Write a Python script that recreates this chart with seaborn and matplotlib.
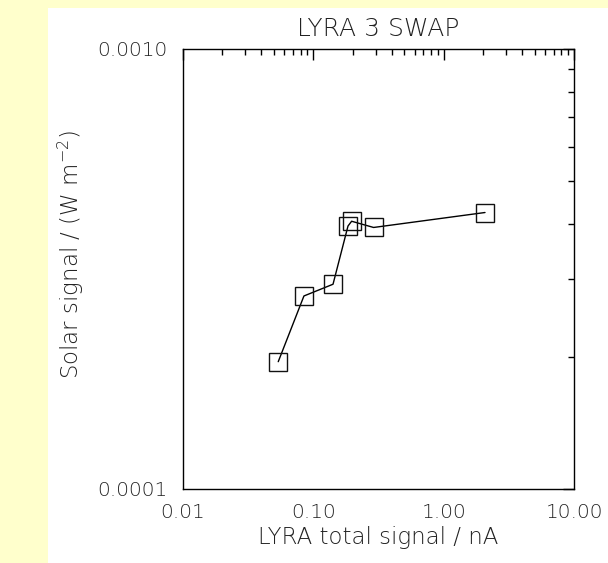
import numpy as np
import pandas as pd
import matplotlib
matplotlib.use("Agg")
import matplotlib.pyplot as plt
import matplotlib.patches as mpatches
from matplotlib.ticker import FixedLocator, FixedFormatter, NullFormatter
import seaborn as sns

# Data
lyra_total_nA = [0.0538, 0.0847, 0.1416, 0.1845, 0.1967, 0.290, 2.076]
solar_signal_Wm2 = [1.947e-4, 2.746e-4, 2.92e-4, 3.96e-4, 4.06e-4, 3.93e-4, 4.25e-4]

x_tick_values = [0.01, 0.1, 1.0, 10.0]
x_tick_labels = ["0.01", "0.10", "1.00", "10.00"]
y_tick_values = [1e-4, 1e-3]
y_tick_labels = ["0.0001", "0.0010"]

title = "LYRA 3 SWAP"
xlabel = "LYRA total signal / nA"
ylabel = "Solar signal / (W m$^{-2}$)"

df = pd.DataFrame({"x": lyra_total_nA, "y": solar_signal_Wm2})

sns.set_style("white")
plt.rcParams["font.family"] = ["DejaVu Sans"]
plt.rcParams["font.weight"] = "light"
plt.rcParams["mathtext.fontset"] = "custom"
plt.rcParams["mathtext.rm"] = "DejaVu Sans:light"

W, H = 608, 563
fig = plt.figure(figsize=(W / 100, H / 100), dpi=100)
fig.patch.set_facecolor("#FFFFCC")

# white panel behind the plot
bg = fig.add_axes([48 / W, 0, 1 - 48 / W, (H - 8) / H], zorder=-10)
bg.set_facecolor("white")
bg.set_axis_off()
bg.add_patch(mpatches.Rectangle((0, 0), 1, 1, transform=bg.transAxes,
                                facecolor="white", edgecolor="none"))

ax_l, ax_r, ax_t, ax_b = 183, 574, 49, 489
ax = fig.add_axes([ax_l / W, 1 - ax_b / H, (ax_r - ax_l) / W, (ax_b - ax_t) / H])
ax.set_facecolor("white")

text_color = "#222222"
sns.lineplot(data=df, x="x", y="y", ax=ax, estimator=None, sort=True,
             color="black", linewidth=1.0, marker="s", markersize=12.5,
             markerfacecolor="none", markeredgecolor="#111111", markeredgewidth=1.0)

ax.set_xscale("log")
ax.set_yscale("log")
ax.set_xlim(0.01, 10.0)
ax.set_ylim(1e-4, 1e-3)

ax.xaxis.set_major_locator(FixedLocator(x_tick_values))
ax.xaxis.set_major_formatter(FixedFormatter(x_tick_labels))
minor_x = [m * d for d in [0.01, 0.1, 1.0] for m in range(2, 10)]
ax.xaxis.set_minor_locator(FixedLocator(minor_x))
ax.xaxis.set_minor_formatter(NullFormatter())

ax.yaxis.set_major_locator(FixedLocator(y_tick_values))
ax.yaxis.set_major_formatter(FixedFormatter(y_tick_labels))
minor_y = [m * 1e-4 for m in range(2, 10)]
ax.yaxis.set_minor_locator(FixedLocator(minor_y))
ax.yaxis.set_minor_formatter(NullFormatter())

ax.tick_params(which="both", direction="in", top=True, right=True, color="black",
               width=1.0, labelsize=14.5, labelcolor=text_color)
ax.tick_params(axis="x", which="major", length=8, pad=10)
ax.tick_params(axis="x", which="minor", length=4.5)
ax.tick_params(axis="y", which="major", length=8, pad=11)
ax.tick_params(axis="y", which="minor", length=4.5)

for s in ax.spines.values():
    s.set_visible(True)
    s.set_color("black")
    s.set_linewidth(1.0)

ax.set_title(title, fontsize=18, color=text_color, pad=9, fontweight="light")
ax.set_xlabel(xlabel, fontsize=16.5, color=text_color, labelpad=3, fontweight="light")
ax.set_ylabel(ylabel, fontsize=16.5, color=text_color, fontweight="light")
ax.yaxis.set_label_coords((86 - ax_l) / (ax_r - ax_l), (ax_b - 255) / (ax_b - ax_t))

fig.savefig("out.png", dpi=100, facecolor=fig.get_facecolor())
